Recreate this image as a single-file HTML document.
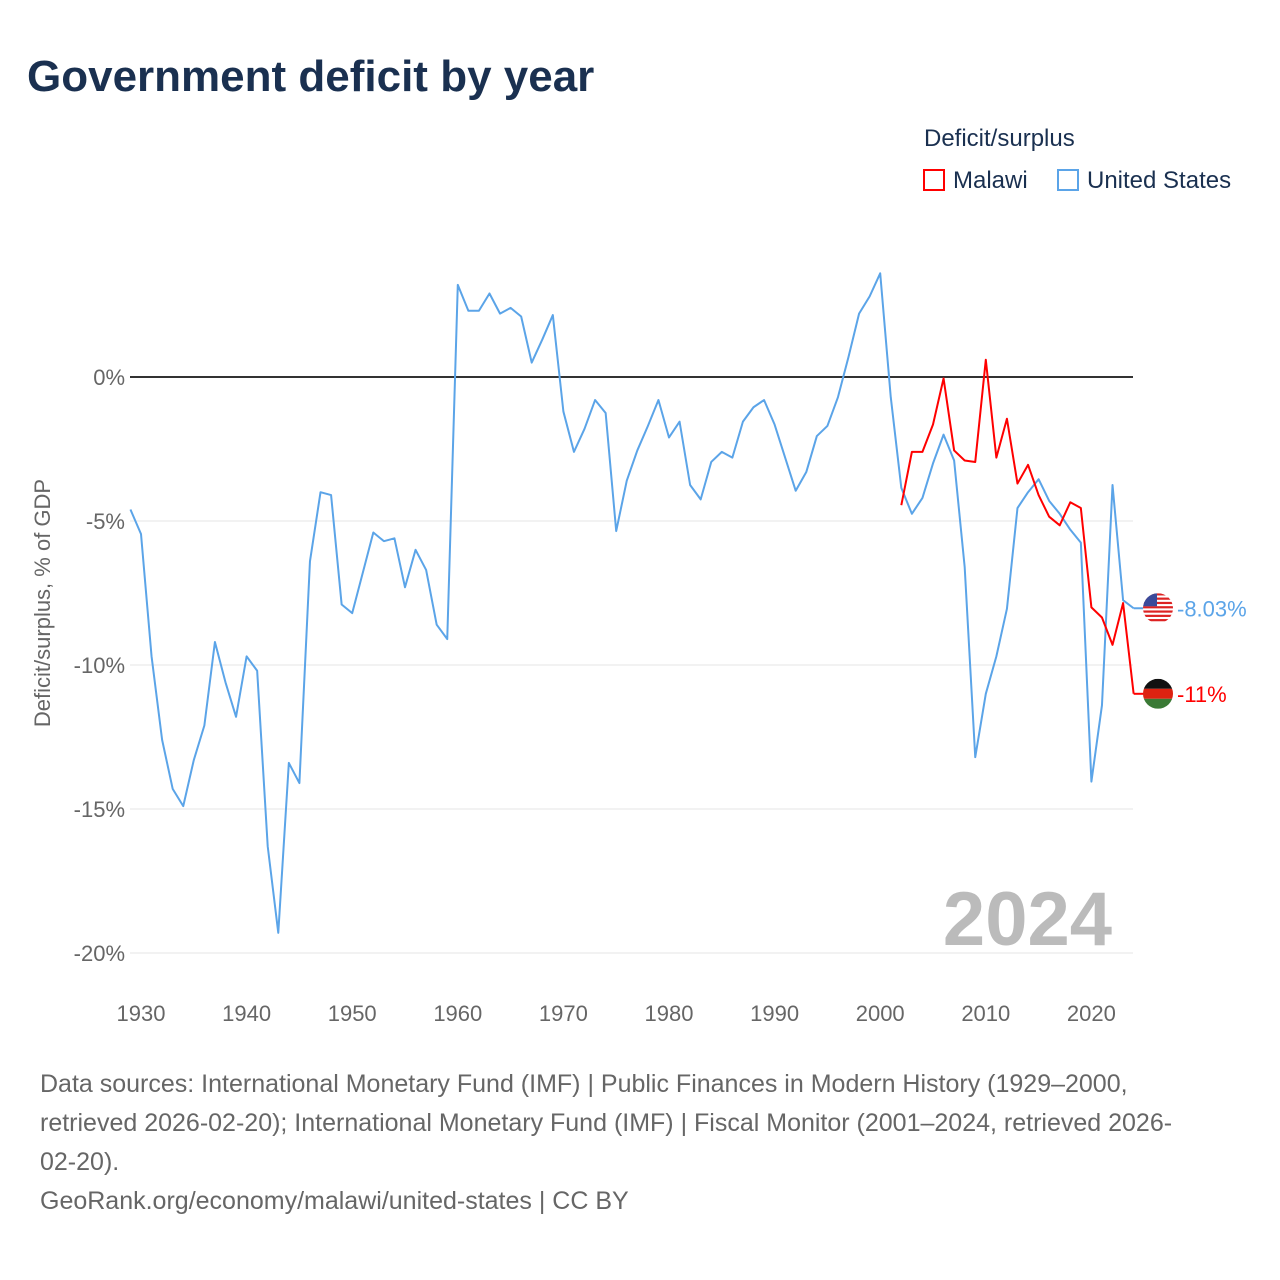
<!DOCTYPE html>
<html><head><meta charset="utf-8">
<style>
body{margin:0;background:#fff;font-family:"Liberation Sans",sans-serif;}
#wrap{position:relative;width:1280px;height:1280px;overflow:hidden;}
.t{position:absolute;white-space:nowrap;}
</style></head><body>
<div id="wrap">
<div class="t" style="left:27px;top:52px;font-size:44px;font-weight:bold;color:#1a3050;">Government deficit by year</div>
<div class="t" style="left:924px;top:125px;font-size:24px;color:#1a3050;">Deficit/surplus</div>
<div class="t" style="left:923px;top:167px;font-size:24px;color:#1a3050;"><span style="display:inline-block;width:22px;height:22px;border:2px solid #f00;box-sizing:border-box;vertical-align:-3px;margin-right:8px;"></span>Malawi</div>
<div class="t" style="left:1057px;top:167px;font-size:24px;color:#1a3050;"><span style="display:inline-block;width:22px;height:22px;border:2px solid #5ba4e8;box-sizing:border-box;vertical-align:-3px;margin-right:8px;"></span>United States</div>
<svg id="chart" width="1280" height="1060" style="position:absolute;left:0;top:0">
<defs><clipPath id="cUS"><circle cx="1158" cy="0" r="15"/></clipPath><clipPath id="cMW"><circle cx="1158" cy="0" r="15"/></clipPath></defs>
</svg>
<div class="t" style="left:40px;top:1065px;font-size:25px;line-height:39px;color:#666;">Data sources: International Monetary Fund (IMF) | Public Finances in Modern History (1929–2000,<br>retrieved 2026-02-20); International Monetary Fund (IMF) | Fiscal Monitor (2001–2024, retrieved 2026-<br>02-20).<br>GeoRank.org/economy/malawi/united-states | CC BY</div>
</div>
<script>
const usYears=[];for(let y=1929;y<=2024;y++)usYears.push(y);
const usValues=[-4.6,-5.45,-9.7,-12.6,-14.3,-14.9,-13.3,-12.1,-9.2,-10.6,-11.8,-9.7,-10.2,-16.3,-19.3,-13.4,-14.1,-6.4,-4.0,-4.1,-7.9,-8.2,-6.8,-5.4,-5.7,-5.6,-7.3,-6.0,-6.7,-8.6,-9.1,3.2,2.3,2.3,2.9,2.2,2.4,2.1,0.5,1.3,2.15,-1.2,-2.6,-1.8,-0.8,-1.25,-5.35,-3.6,-2.55,-1.7,-0.8,-2.1,-1.55,-3.75,-4.25,-2.95,-2.6,-2.8,-1.55,-1.05,-0.8,-1.65,-2.8,-3.95,-3.3,-2.05,-1.7,-0.7,0.7,2.2,2.8,3.6,-0.7,-3.85,-4.75,-4.2,-3.0,-2.0,-2.9,-6.6,-13.2,-11.0,-9.7,-8.05,-4.55,-4.0,-3.55,-4.3,-4.75,-5.3,-5.75,-14.05,-11.4,-3.75,-7.75,-8.03];
const mwYears=[];for(let y=2002;y<=2024;y++)mwYears.push(y);
const mwValues=[-4.45,-2.6,-2.6,-1.65,-0.05,-2.55,-2.9,-2.95,0.6,-2.8,-1.45,-3.7,-3.05,-4.1,-4.85,-5.15,-4.35,-4.55,-8.0,-8.35,-9.3,-7.85,-11.0];
const yTicks=[0,-5,-10,-15,-20];
const xTicks=[1930,1940,1950,1960,1970,1980,1990,2000,2010,2020];
const sx=y=>141+(y-1930)*10.56;
const sy=v=>377-v*28.8;
const NS="http://www.w3.org/2000/svg";
const svg=document.getElementById('chart');
function mk(tag,attrs,parent){const e=document.createElementNS(NS,tag);for(const k in attrs)e.setAttribute(k,attrs[k]);(parent||svg).appendChild(e);return e;}
yTicks.forEach(v=>{
  const l=mk('line',{x1:130,x2:1133,y1:sy(v),y2:sy(v),stroke:v===0?'#333':'#e6e6e6','stroke-width':v===0?2:1});
  
  
  const t=mk('text',{x:125,y:sy(v)+8,'text-anchor':'end','font-size':22,fill:'#666','font-family':'Liberation Sans, sans-serif'});
  t.textContent=v+'%';
  
  
});
xTicks.forEach(y=>{
  const t=mk('text',{x:sx(y),y:1021,'text-anchor':'middle','font-size':22,fill:'#666','font-family':'Liberation Sans, sans-serif'});
  t.textContent=y;
  
  
});
const yt=mk('text',{x:0,y:0,transform:'translate(50,603) rotate(-90)','text-anchor':'middle','font-size':22,fill:'#666','font-family':'Liberation Sans, sans-serif'});
yt.textContent='Deficit/surplus, % of GDP';


const yr=mk('text',{x:1112,y:945,'text-anchor':'end','font-size':76,'font-weight':'bold',fill:'#bbb','font-family':'Liberation Sans, sans-serif'});
yr.textContent='2024';


function line(xs,vs,col,name){
  const p=mk('polyline',{points:xs.map((y,i)=>sx(y)+','+sy(vs[i])).join(' '),fill:'none',stroke:col,'stroke-width':2,'stroke-linejoin':'round'});
  
  
}
line(usYears,usValues,'#5ba4e8','us-line');
line(mwYears,mwValues,'#f00','malawi-line');
function endLabel(xs,vs,col,txt,name,flag){
  const v=vs[vs.length-1],x=sx(xs[xs.length-1]),y=sy(v);
  const ln=mk('line',{x1:x,x2:x+10,y1:y,y2:y,stroke:col,'stroke-width':2});
  
  
  const cx=1158;
  const g=mk('g',{transform:'translate(0,'+y+')','clip-path':flag==='us'?'url(#cUS)':'url(#cMW)'});
  
  
  if(flag==='us'){
    mk('rect',{x:cx-15,y:-15,width:30,height:30,fill:'#fff'},g);
    for(let i=0;i<7;i++){mk('rect',{x:cx-15,y:-15+i*4.3,width:30,height:2.2,fill:'#d22'},g);}
    mk('rect',{x:cx-15,y:-15,width:14,height:13,fill:'#3a4a9a'},g);
  } else {
    mk('rect',{x:cx-15,y:-15,width:30,height:10,fill:'#111'},g);
    mk('rect',{x:cx-15,y:-5,width:30,height:10,fill:'#d21'},g);
    mk('rect',{x:cx-15,y:5,width:30,height:10,fill:'#3a7a35'},g);
  }
  const t=mk('text',{x:1177,y:y+8,'font-size':22,fill:col,'font-family':'Liberation Sans, sans-serif'});
  t.textContent=txt;
  
  
}
endLabel(usYears,usValues,'#5ba4e8','-8.03%','us-end-label','us');
endLabel(mwYears,mwValues,'#f00','-11%','malawi-end-label','mw');
</script>
</body></html>
